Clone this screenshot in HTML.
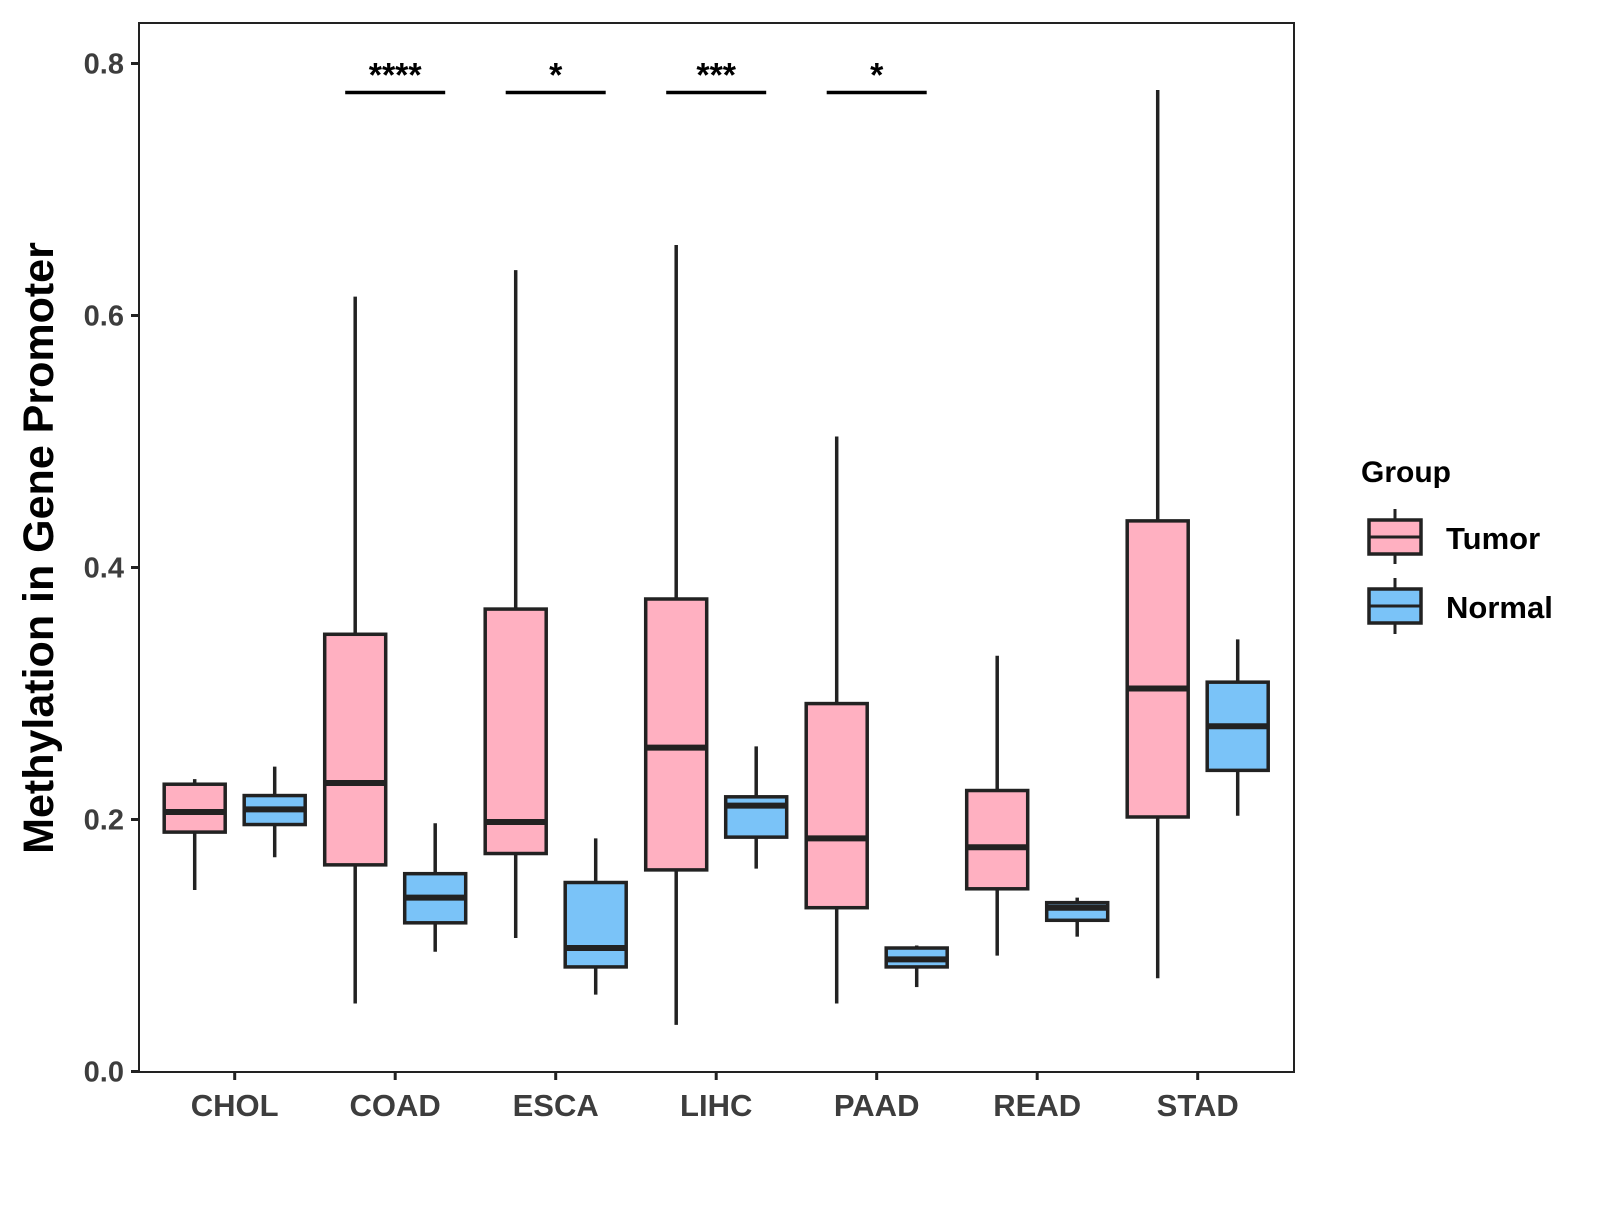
<!DOCTYPE html>
<html><head><meta charset="utf-8"><style>
body{margin:0;background:#fff;}
svg text{font-family:"Liberation Sans",sans-serif;font-weight:bold;}
</style></head><body>
<svg id="chart" width="1600" height="1200" viewBox="0 0 1600 1200">
<rect x="139" y="23" width="1155" height="1049" fill="#fff" stroke="#222" stroke-width="2"/>
<g id="marks"></g>
<text x="53" y="548" font-size="43" text-anchor="middle" transform="rotate(-90 53 548)" fill="#000">Methylation in Gene Promoter</text>
<g>
<text x="1361" y="482" font-size="30" fill="#000">Group</text>
<g>
<line x1="1395" y1="509" x2="1395" y2="564" stroke="#222" stroke-width="3"/>
<rect x="1369" y="520" width="52" height="34" fill="#FFB0C1" stroke="#222" stroke-width="3.5"/>
<line x1="1369" y1="537" x2="1421" y2="537" stroke="#222" stroke-width="3"/>
<text x="1446" y="549" font-size="31" fill="#000">Tumor</text>
</g>
<g>
<line x1="1395" y1="578" x2="1395" y2="634" stroke="#222" stroke-width="3"/>
<rect x="1369" y="589" width="52" height="34" fill="#7AC3F8" stroke="#222" stroke-width="3.5"/>
<line x1="1369" y1="606" x2="1421" y2="606" stroke="#222" stroke-width="3"/>
<text x="1446" y="618" font-size="31" fill="#000">Normal</text>
</g>
</g>
</svg>
<script>
const categories=["CHOL","COAD","ESCA","LIHC","PAAD","READ","STAD"];
// [whiskerMax, q3, median, q1, whiskerMin]
const tumorStats=[[0.232,0.228,0.206,0.190,0.144],[0.615,0.347,0.229,0.164,0.054],[0.636,0.367,0.198,0.173,0.106],[0.656,0.375,0.257,0.160,0.037],[0.504,0.292,0.185,0.130,0.054],[0.330,0.223,0.178,0.145,0.092],[0.779,0.437,0.304,0.202,0.074]];
const normalStats=[[0.242,0.219,0.208,0.196,0.170],[0.197,0.157,0.138,0.118,0.095],[0.185,0.150,0.098,0.083,0.061],[0.258,0.218,0.211,0.186,0.161],[0.100,0.098,0.089,0.083,0.067],[0.138,0.134,0.130,0.120,0.107],[0.343,0.309,0.274,0.239,0.203]];
const yTicks=[0,0.2,0.4,0.6,0.8];
const yTickLabels=["0.0","0.2","0.4","0.6","0.8"];
const sigCategories=["COAD","ESCA","LIHC","PAAD"];
const sigLabels=["****","*","***","*"];
const sigLevel=0.777;

const NS="http://www.w3.org/2000/svg";
const g=document.getElementById('marks');
const y=v=>1071.5-v*1260;
const x=i=>234.7+i*160.5;
const off=40,bw=61;
function el(t,a,p){const e=document.createElementNS(NS,t);for(const k in a)e.setAttribute(k,a[k]);(p||g).appendChild(e);return e;}

yTicks.forEach((t,i)=>{
  const ln=el('line',{x1:131,x2:139,y1:y(t),y2:y(t),stroke:'#222','stroke-width':3});
  
  
  const tx=el('text',{x:124,y:y(t)+10,'font-size':29,'text-anchor':'end',fill:'#3d3d3d'});
  tx.textContent=yTickLabels[i];
  
  
});
categories.forEach((c,i)=>{
  const ln=el('line',{x1:x(i),x2:x(i),y1:1072,y2:1080,stroke:'#222','stroke-width':3});
  
  
  const tx=el('text',{x:x(i),y:1116,'font-size':31,'text-anchor':'middle',fill:'#3d3d3d'});
  tx.textContent=c;
  
  
});
function box(s,cx,fill,name){
  const gr=el('g',{});
  
  
  el('line',{x1:cx,x2:cx,y1:y(s[0]),y2:y(s[4]),stroke:'#222','stroke-width':3.5},gr);
  el('rect',{x:cx-bw/2,y:y(s[1]),width:bw,height:y(s[3])-y(s[1]),fill:fill,stroke:'#222','stroke-width':3.5},gr);
  el('line',{x1:cx-bw/2,x2:cx+bw/2,y1:y(s[2]),y2:y(s[2]),stroke:'#222','stroke-width':6},gr);
}
categories.forEach((c,i)=>{
  box(tumorStats[i],x(i)-off,'#FFB0C1','box-tumor-'+c.toLowerCase());
  box(normalStats[i],x(i)+off,'#7AC3F8','box-normal-'+c.toLowerCase());
});
sigCategories.forEach((c,k)=>{
  const i=categories.indexOf(c);
  const ln=el('line',{x1:x(i)-off-10,x2:x(i)+off+10,y1:y(sigLevel),y2:y(sigLevel),stroke:'#000','stroke-width':3.5});
  
  
  const tx=el('text',{x:x(i),y:y(sigLevel)-6,'font-size':34,'text-anchor':'middle',fill:'#000'});
  tx.textContent=sigLabels[k];
  
  
});
</script>
</body></html>
